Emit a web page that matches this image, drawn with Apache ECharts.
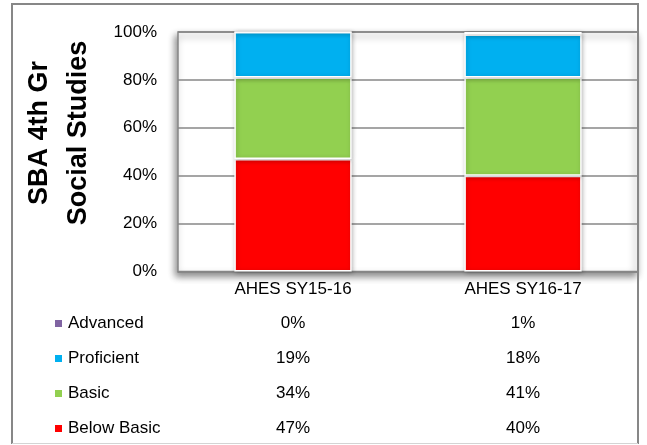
<!DOCTYPE html>
<html>
<head>
<meta charset="utf-8">
<script src="https://cdn.jsdelivr.net/npm/echarts@6/dist/echarts.min.js"></script>
<style>
  html, body { margin: 0; padding: 0; background: #fff; }
  #chart { width: 647px; height: 445px; }
</style>
</head>
<body>
<div id="chart"></div>
<script>
let chart = echarts.init(document.getElementById('chart'));

/* categories */
let categories = ['AHES SY15-16', 'AHES SY16-17'];
/* percentages per level */
let advanced = [0, 1];
let proficient = [19, 18];
let basic = [34, 41];
let belowBasic = [47, 40];

let levelNames = ['Advanced', 'Proficient', 'Basic', 'Below Basic'];
let levelValues = [advanced, proficient, basic, belowBasic];
let levelColors = ['#8064a2', '#00b0f0', '#92d050', '#ff0000'];

let font = 'Liberation Sans, Arial, sans-serif';
let gridColor = '#878787';

/* one hidden axis per table row, label text taken from the arrays */
let tableAxes = levelValues.map(function (vals, i) {
    return {
        type: 'category',
        data: categories,
        position: 'bottom',
        offset: 35 + i * 35,
        axisLine: { show: false },
        axisTick: { show: false },
        splitLine: { show: false },
        axisLabel: {
            margin: 8,
            fontFamily: font,
            fontSize: 17,
            color: '#000',
            formatter: function (v, idx) { return vals[idx] + '%'; }
        }
    };
});

// bottom to top in the stack
let stackOrder = [3, 2, 1, 0];
let series = stackOrder.map(function (k) {
    return {
        name: levelNames[k],
        type: 'bar',
        stack: 'total',
        barWidth: '51%',
        data: levelValues[k],
        itemStyle: {
            color: levelColors[k],
            borderColor: '#fff',
            borderWidth: 1.5,
            shadowColor: 'rgba(0,0,0,0.25)',
            shadowBlur: 4,
            shadowOffsetX: 1,
            shadowOffsetY: 1
        }
    };
});

let option = {
    animation: false,
    backgroundColor: '#fff',
    grid: {
        left: 178,
        right: 9,
        top: 32,
        bottom: 173.5,
        show: true,
        backgroundColor: '#fff',
        borderColor: gridColor,
        borderWidth: 1.5,
        shadowColor: 'rgba(0,0,0,0.45)',
        shadowBlur: 7,
        shadowOffsetX: -2,
        shadowOffsetY: 4
    },
    legend: {
        orient: 'vertical',
        left: 48,
        top: 310,
        itemWidth: 9,
        itemHeight: 9,
        itemGap: 18,
        icon: 'rect',
        data: levelNames,
        textStyle: { fontFamily: font, fontSize: 17, color: '#000' }
    },
    xAxis: [{
        type: 'category',
        data: categories,
        axisLine: { show: true, lineStyle: { color: gridColor, width: 1.5 } },
        axisTick: { show: false },
        axisLabel: { margin: 9, fontFamily: font, fontSize: 17, color: '#000' }
    }].concat(tableAxes),
    yAxis: {
        type: 'value',
        min: 0,
        max: 100,
        interval: 20,
        axisLine: { show: false },
        axisTick: { show: false },
        axisLabel: {
            margin: 21,
            fontFamily: font,
            fontSize: 17,
            color: '#000',
            formatter: '{value}%'
        },
        splitLine: { lineStyle: { color: gridColor, width: 1.5 } }
    },
    graphic: [
        {
            type: 'text',
            x: 59,
            y: 133,
            rotation: Math.PI / 2,
            style: {
                text: 'SBA 4th Gr\nSocial Studies',
                font: 'bold 27px ' + font,
                lineHeight: 39,
                fill: '#000',
                align: 'center',
                verticalAlign: 'middle'
            }
        },
        {
            type: 'polyline',
            silent: true,
            shape: { points: [[12, 444], [12, 4], [638, 4], [638, 444]] },
            style: { stroke: gridColor, lineWidth: 2, fill: null }
        },
        {
            type: 'line',
            silent: true,
            shape: { x1: 12, y1: 443.5, x2: 638, y2: 443.5 },
            style: { stroke: '#d4d4d4', lineWidth: 1 }
        }
    ],
    series: series
};

chart.setOption(option);
</script>
</body>
</html>
